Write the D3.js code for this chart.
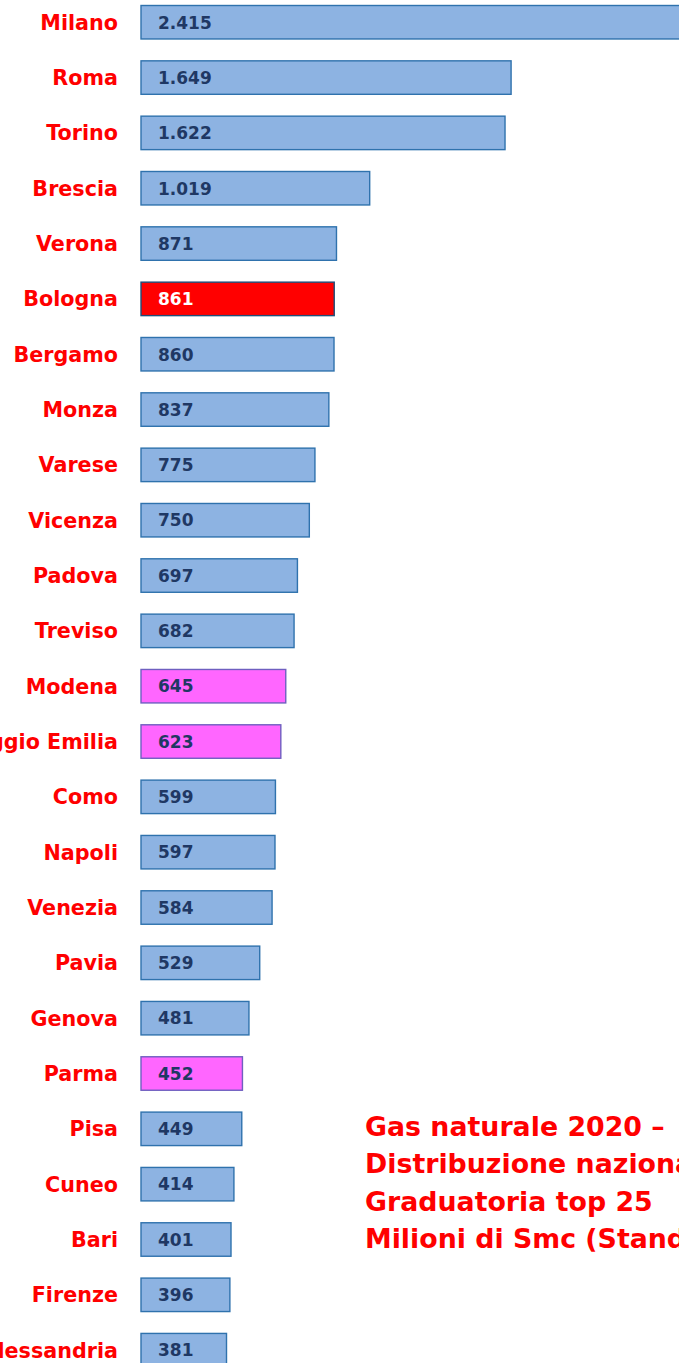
<!DOCTYPE html>
<html>
<head>
<meta charset="utf-8">
<script src="https://cdn.jsdelivr.net/npm/d3@7"></script>
<style>
  body { margin: 0; background: #fff; }
  svg { display: block; }
</style>
</head>
<body>
<div class="bar-chart"></div>
<script>
// dati: gas naturale 2020, milioni di Smc
const cities = ['Milano','Roma','Torino','Brescia','Verona','Bologna','Bergamo','Monza','Varese','Vicenza',
  'Padova','Treviso','Modena','Reggio Emilia','Como','Napoli','Venezia','Pavia','Genova','Parma',
  'Pisa','Cuneo','Bari','Firenze','Alessandria'];
const values = [2415,1649,1622,1019,871,861,860,837,775,750,697,682,645,623,599,597,584,529,481,452,449,414,401,396,381];
const redCities = ['Bologna'];
const pinkCities = ['Modena','Reggio Emilia','Parma'];
const titleLines = ['Gas naturale 2020 –','Distribuzione nazionale','Graduatoria top 25','Milioni di Smc (Standard metri cubi)'];

const data = cities.map((c,i) => ({city: c, value: values[i]}));

const svg_width = 679;
const svg_height = 1363;
const font = "'DejaVu Sans', sans-serif";

const svg = d3.select('.bar-chart').append('svg')
  .attr('width', svg_width).attr('height', svg_height);

// scale orizzontale: Milano esce leggermente dal bordo
const xScale = d3.scaleLinear().domain([0, 2415]).range([141, 683]);
const yScale = d3.scaleBand().domain(cities)
  .range([5.5, 5.5 + 55.33 * (cities.length - 0.395)])
  .paddingInner(0.395).paddingOuter(0);

const fillOf = d => redCities.includes(d.city) ? '#ff0000'
  : pinkCities.includes(d.city) ? '#ff66ff' : '#8db3e2';
const strokeOf = d => redCities.includes(d.city) ? '#1f4e79'
  : pinkCities.includes(d.city) ? '#6f5fc0' : '#2f72ad';

// barre
svg.selectAll('.bar')
  .data(data)
  .enter()
  .append('rect').attr('class','bar')
  .attr('x', xScale(0))
  .attr('y', d => yScale(d.city))
  .attr('width', d => xScale(d.value) - xScale(0))
  .attr('height', yScale.bandwidth())
  .style('fill', fillOf)
  .style('stroke', strokeOf)
  .style('stroke-width', 1.4);

// valori dentro le barre
const fmt = d3.formatLocale({decimal: ',', thousands: '.', grouping: [3]}).format(',d');
svg.selectAll('.val')
  .data(data)
  .enter()
  .append('text').attr('class','val')
  .attr('x', xScale(0) + 17)
  .attr('y', d => yScale(d.city) + yScale.bandwidth()/2)
  .attr('dy', '0.37em')
  .style('font-family', font).style('font-weight','bold').style('font-size','17px')
  .style('fill', d => redCities.includes(d.city) ? '#ffffff' : '#1f3864')
  .text(d => fmt(d.value));

// etichette città
const yAxis = d3.axisLeft(yScale).tickSize(0).tickPadding(0);
const yAxisDraw = svg.append('g').attr('class','y axis')
  .attr('transform', 'translate(118,0)')
  .call(yAxis);
yAxisDraw.select('.domain').remove();
yAxisDraw.selectAll('text')
  .attr('dy','0.36em')
  .style('font-family', font).style('font-weight','bold').style('font-size','20.7px')
  .style('fill','#ff0000');

// titolo
svg.append('text').attr('class','title')
  .attr('x', 365).attr('y', 1136)
  .style('font-family', font).style('font-weight','bold').style('font-size','26.8px')
  .style('fill','#ff0000')
  .selectAll('tspan').data(titleLines).enter().append('tspan')
  .attr('x', 365).attr('dy', (d,i) => i === 0 ? 0 : 37.3)
  .text(d => d);
</script>
</body>
</html>
